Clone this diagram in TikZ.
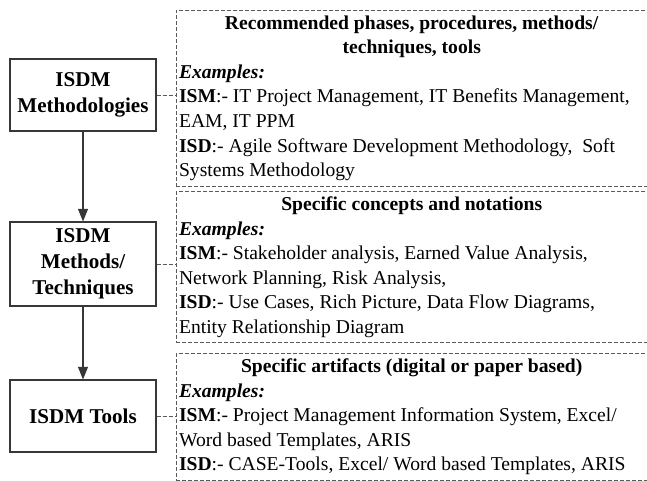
\documentclass[tikz,border=0pt]{standalone}
\usepackage{fontspec}
\setmainfont{Liberation Serif}
\usetikzlibrary{arrows.meta,calc,positioning}
\definecolor{framecol}{RGB}{55,55,55}
\definecolor{dashcol}{RGB}{90,90,90}
\newcommand{\exhead}{\textbf{\textit{Examples:}}}

\begin{document}
\begin{tikzpicture}[x=0.75pt,y=-0.75pt,>={Triangle[width=7.5pt,length=9.5pt]},
  level/.style={draw=framecol,line width=0.8pt,minimum width=109.5pt,
    align=center,font=\fontsize{15.8}{19.5}\selectfont\bfseries},
  example/.style={draw=dashcol,dash pattern=on 3pt off 1.5pt,line width=0.6pt,
    anchor=north west,text width=349pt,inner xsep=2pt,inner ysep=4pt,
    align=flush left,font=\fontsize{14.7}{18.4}\selectfont},
  link/.style={dashcol,dash pattern=on 3pt off 1.5pt,line width=0.6pt}]
  \useasboundingbox (0,0) rectangle (647,480);
  % the three levels
  \node[level,minimum height=54pt] (meth) at (83,95) {ISDM\\Methodologies};
  \node[level,minimum height=63pt] (tech) at (83,264) {ISDM\\Methods/\\Techniques};
  \node[level,minimum height=54pt] (tools) at (83,416) {ISDM Tools};
  \draw[->,framecol,line width=0.8pt] (meth) -- (tech);
  \draw[->,framecol,line width=0.8pt] (tech) -- (tools);
  % example boxes on the right
  \node[example] (exMeth) at (176,10)
    {{\centering\textbf{Recommended phases, procedures, methods/}\\
      \textbf{techniques, tools}\par}
     \exhead\\
     \textbf{ISM}:- IT Project Management, IT Benefits Management,\\
     EAM, IT PPM\\
     \textbf{ISD}:- Agile Software Development Methodology,\ \ Soft\\
     Systems Methodology};
  \node[example] (exTech) at (176,191)
    {{\centering\textbf{Specific concepts and notations}\par}
     \exhead\\
     \textbf{ISM}:- Stakeholder analysis, Earned Value Analysis,\\
     Network Planning, Risk Analysis,\\
     \textbf{ISD}:- Use Cases, Rich Picture, Data Flow Diagrams,\\
     Entity Relationship Diagram};
  \node[example] (exTools) at (176,353)
    {{\centering\textbf{Specific artifacts (digital or paper based)}\par}
     \exhead\\
     \textbf{ISM}:- Project Management Information System, Excel/\\
     Word based Templates, ARIS\\
     \textbf{ISD}:- CASE-Tools, Excel/ Word based Templates, ARIS};
  % dashed links
  \draw[link] (meth.east) -- (meth.east -| exMeth.west);
  \draw[link] (tech.east) -- (tech.east -| exTech.west);
  \draw[link] (tools.east) -- (tools.east -| exTools.west);
\end{tikzpicture}
\end{document}
